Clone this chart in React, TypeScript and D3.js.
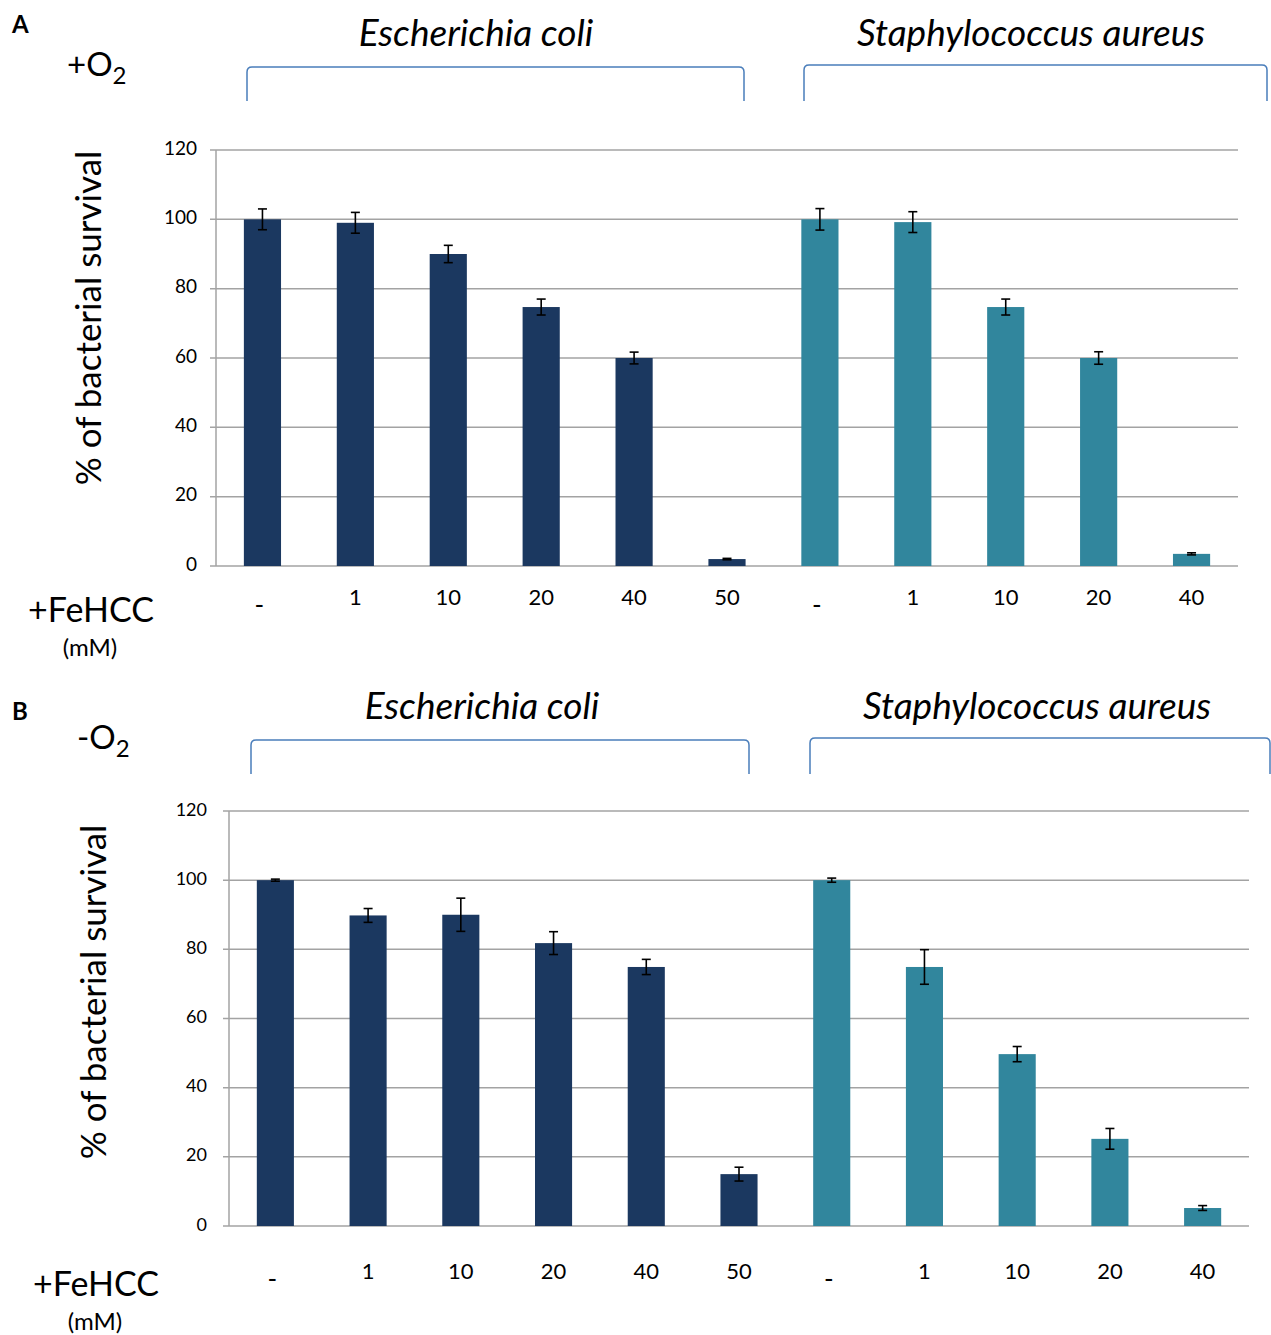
import React from "react";
import * as d3 from "d3";

// concentrations (mM) on the x axis, "-" = untreated
const doses = ["-", "1", "10", "20", "40", "50", "-", "1", "10", "20", "40"];
const species = ["Escherichia coli", "Staphylococcus aureus"];
const speciesOf = [0, 0, 0, 0, 0, 0, 1, 1, 1, 1, 1];
const yTicks = [0, 20, 40, 60, 80, 100, 120];

// panel A: +O2
const survivalA = [100, 99, 90, 74.7, 60, 2, 100, 99.2, 74.7, 60, 3.5];
const errA = [3, 3, 2.5, 2.3, 1.7, 0.2, 3.1, 3, 2.3, 1.8, 0.3];
// panel B: -O2
const survivalB = [100, 89.8, 90, 81.8, 74.9, 15, 100, 74.9, 49.7, 25.2, 5.2];
const errB = [0.3, 2, 4.8, 3.3, 2.2, 2, 0.6, 5, 2.2, 3, 0.7];

const colors = ["#1b3860", "#31869d"];
const gridColor = "#a3a3a3";
const bracketColor = "#4a7ebb";
const font = "Lato, 'Open Sans', sans-serif";

type PanelProps = {
  letter: string;
  letterY: number;
  oxygen: string;
  values: number[];
  errors: number[];
  x0: number;
  x1: number;
  yTop: number;
  yBottom: number;
  dy: number; // vertical offset of the panel's annotations
  brackets: [number, number, number][]; // left, right, top
  titleX: number[];
  axisTitleX: number;
  axisTitleY: number;
  tickOffset: number;
  tickFont: number;
  labelGap: number; // x labels below the zero line
};

const Panel = (p: PanelProps) => {
  const x = d3
    .scaleBand<number>()
    .domain(d3.range(doses.length))
    .range([p.x0, p.x1])
    .paddingInner(0.6)
    .paddingOuter(0.3);
  const y = d3.scaleLinear().domain([0, 120]).range([p.yBottom, p.yTop]);
  const bw = x.bandwidth();
  const cap = 4.5;

  const bracketPath = (l: number, r: number, t: number, b: number) => {
    const rad = 5;
    return `M${l},${b} L${l},${t + rad} Q${l},${t} ${l + rad},${t} L${r - rad},${t} Q${r},${t} ${r},${t + rad} L${r},${b}`;
  };

  const labelY = p.yBottom + p.labelGap;

  return (
    <g fontFamily={font}>
      <text x={12} y={p.letterY} fontSize={24} fontWeight="bold" fill="#000">
        {p.letter}
      </text>
      <text x={p.letter === "A" ? 67 : 77} y={p.dy + 76} fontSize={33} fill="#000">
        {p.oxygen}O
        <tspan fontSize={24} dy={8}>
          2
        </tspan>
      </text>

      {species.map((s, i) => (
        <text
          key={s}
          x={p.titleX[i]}
          y={p.dy + 46}
          textAnchor="middle"
          fontSize={37}
          fontStyle="italic"
          fill="#000"
        >
          {s}
        </text>
      ))}

      {p.brackets.map(([l, r, t], i) => (
        <path
          key={i}
          d={bracketPath(l, r, p.dy + t, p.dy + 101)}
          fill="none"
          stroke={bracketColor}
          strokeWidth={1.5}
        />
      ))}

      {yTicks.map((t) => (
        <g key={t}>
          <line x1={p.x0 - 6} x2={p.x1} y1={y(t)} y2={y(t)} stroke={gridColor} strokeWidth={1.5} />
          <text
            x={p.x0 - p.tickOffset}
            y={y(t)}
            textAnchor="end"
            dominantBaseline="middle"
            fontSize={p.tickFont}
            fill="#000"
          >
            {t}
          </text>
        </g>
      ))}
      <line x1={p.x0} x2={p.x0} y1={p.yTop} y2={p.yBottom} stroke={gridColor} strokeWidth={1.5} />

      {p.values.map((v, i) => {
        const bx = x(i) as number;
        const cx = bx + bw / 2;
        const e = p.errors[i];
        return (
          <g key={i}>
            <rect x={bx} y={y(v)} width={bw} height={y(0) - y(v)} fill={colors[speciesOf[i]]} />
            <g stroke="#000" strokeWidth={1.6}>
              <line x1={cx} x2={cx} y1={y(v + e)} y2={y(v - e)} />
              <line x1={cx - cap} x2={cx + cap} y1={y(v + e)} y2={y(v + e)} />
              <line x1={cx - cap} x2={cx + cap} y1={y(v - e)} y2={y(v - e)} />
            </g>
          </g>
        );
      })}

      {doses.map((d, i) => (
        <text
          key={i}
          x={(x(i) as number) + bw / 2 - (d === "-" ? 3 : 0)}
          y={labelY + (d === "-" ? 9 : 0)}
          textAnchor="middle"
          fontSize={d === "-" ? 26 : 22}
          fill="#000"
        >
          {d}
        </text>
      ))}

      <text
        transform={`translate(${p.axisTitleX},${p.axisTitleY}) rotate(-90)`}
        textAnchor="middle"
        dominantBaseline="middle"
        fontSize={35}
        fill="#000"
      >
        % of bacterial survival
      </text>

      <text x={p.axisTitleX - 1} y={labelY + 17} textAnchor="middle" fontSize={34} fill="#000">
        +FeHCC
      </text>
      <text x={p.axisTitleX - 2} y={labelY + 51} textAnchor="middle" fontSize={24} fill="#000">
        (mM)
      </text>
    </g>
  );
};

export default function App() {
  return (
    <div style={{ position: "absolute", left: 0, top: 0 }}>
      <svg width={1271} height={1335} style={{ display: "block", background: "#fff" }}>
        <Panel
          letter="A"
          letterY={33}
          oxygen="+"
          values={survivalA}
          errors={errA}
          x0={216}
          x1={1238}
          yTop={150}
          yBottom={566}
          dy={0}
          brackets={[
            [247, 744, 67],
            [804, 1267, 65],
          ]}
          titleX={[476, 1031]}
          axisTitleX={92}
          axisTitleY={318}
          tickOffset={19}
          tickFont={19}
          labelGap={39}
        />
        <Panel
          letter="B"
          letterY={720}
          oxygen="-"
          values={survivalB}
          errors={errB}
          x0={229}
          x1={1249}
          yTop={811}
          yBottom={1226}
          dy={673}
          brackets={[
            [251, 749, 67],
            [810, 1270, 65],
          ]}
          titleX={[482, 1037]}
          axisTitleX={97}
          axisTitleY={992}
          tickOffset={22}
          tickFont={18}
          labelGap={53}
        />
      </svg>
    </div>
  );
}
